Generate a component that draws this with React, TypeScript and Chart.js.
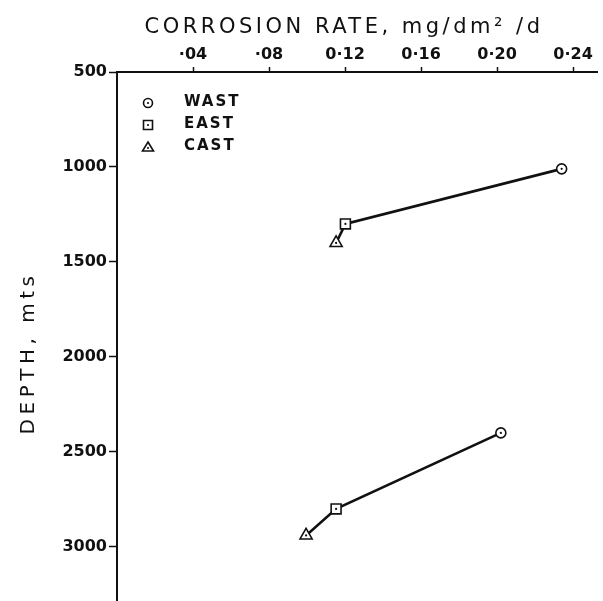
import React, { useEffect, useRef } from "react";
import { Chart, registerables } from "chart.js";

Chart.register(...registerables);

// Data (x = corrosion rate, y = depth)
const seriesLabels = ["WAST", "EAST", "CAST"];
const seriesStyles = ["circle", "rect", "triangle"];
const wastRate = [0.234, 0.202];
const wastDepth = [1010, 2400];
const eastRate = [0.1202, 0.1153];
const eastDepth = [1300, 2800];
const castRate = [0.1153, 0.0995];
const castDepth = [1400, 2940];

const xTicks = [0.04, 0.08, 0.12, 0.16, 0.2, 0.24];
const xTickLabels = ["·04", "·08", "0·12", "0·16", "0·20", "0·24"];
const yTicks = [500, 1000, 1500, 2000, 2500, 3000];

const xTitle = "CORROSION RATE, mg/dm² /d";
const yTitle = "DEPTH, mts";

const INK = "#111";

export default function App() {
  const ref = useRef<HTMLCanvasElement | null>(null);

  useEffect(() => {
    if (!ref.current) return;
    const rates = [wastRate, eastRate, castRate];
    const depths = [wastDepth, eastDepth, castDepth];
    const radii = [5, 7, 7];

    const markerSets = seriesLabels.map((label, s) => ({
      label,
      type: "scatter" as const,
      data: rates[s].map((r, i) => ({ x: r, y: depths[s][i] })),
      pointStyle: seriesStyles[s],
      pointRadius: radii[s],
      pointBackgroundColor: "#fff",
      pointBorderColor: INK,
      pointBorderWidth: 1.6,
      showLine: false,
      order: 1,
    }));
    const dotSets = seriesLabels.map((label, s) => ({
      label: label + "-dot",
      type: "scatter" as const,
      data: rates[s].map((r, i) => ({ x: r, y: depths[s][i] })),
      pointStyle: "circle",
      pointRadius: 1.1,
      pointBackgroundColor: INK,
      pointBorderWidth: 0,
      showLine: false,
      order: 0,
    }));
    const lineSets = wastRate.map((_, g) => ({
      label: "group" + g,
      type: "line" as const,
      data: rates.map((r, s) => ({ x: r[g], y: depths[s][g] })),
      borderColor: INK,
      borderWidth: 2.6,
      pointRadius: 0,
      fill: false,
      tension: 0,
      order: 2,
    }));

    const decor = {
      id: "decor",
      afterDraw(chart: any) {
        const ctx = chart.ctx as CanvasRenderingContext2D;
        ctx.save();
        ctx.fillStyle = INK;
        ctx.strokeStyle = INK;
        // x title
        ctx.font = "21px 'DejaVu Sans'";
        (ctx as any).letterSpacing = "3.5px";
        ctx.textAlign = "center";
        ctx.textBaseline = "alphabetic";
        ctx.fillText(xTitle, 344, 33);
        // y title
        ctx.save();
        ctx.translate(34, 353);
        ctx.rotate(-Math.PI / 2);
        ctx.font = "20px 'DejaVu Sans'";
        (ctx as any).letterSpacing = "4.5px";
        ctx.textBaseline = "alphabetic";
        ctx.fillText(yTitle, 0, 0);
        ctx.restore();
        // legend
        const lx = 148;
        const rows = [103, 125, 147];
        ctx.font = "bold 15px 'DejaVu Sans'";
        (ctx as any).letterSpacing = "2px";
        ctx.textAlign = "left";
        ctx.textBaseline = "middle";
        seriesLabels.forEach((label, i) => {
          const y = rows[i];
          ctx.lineWidth = 1.6;
          ctx.fillStyle = "#fff";
          ctx.beginPath();
          if (seriesStyles[i] === "circle") {
            ctx.arc(lx, y, 4.5, 0, Math.PI * 2);
          } else if (seriesStyles[i] === "rect") {
            ctx.rect(lx - 4.5, y - 4.5, 9, 9);
          } else {
            ctx.moveTo(lx, y - 5);
            ctx.lineTo(lx + 5.5, y + 4);
            ctx.lineTo(lx - 5.5, y + 4);
            ctx.closePath();
          }
          ctx.fill();
          ctx.stroke();
          ctx.fillStyle = INK;
          ctx.beginPath();
          ctx.arc(lx, y + (i === 2 ? 1 : 0), 1.1, 0, Math.PI * 2);
          ctx.fill();
          ctx.fillText(label, 184, y - 1);
        });
        ctx.restore();
      },
    };

    const chart = new Chart(ref.current, {
      type: "scatter",
      data: { datasets: [...lineSets, ...markerSets, ...dotSets] as any },
      options: {
        animation: false,
        responsive: true,
        maintainAspectRatio: false,
        layout: { autoPadding: false, padding: { left: 0, right: 6, top: 0, bottom: 0 } },
        plugins: { legend: { display: false }, tooltip: { enabled: false } },
        scales: {
          x: {
            type: "linear",
            position: "top",
            min: 0,
            max: 0.2526,
            afterBuildTicks(scale: any) {
              scale.ticks = xTicks.map((v) => ({ value: v }));
            },
            afterFit(scale: any) {
              scale.height = 72;
              scale.paddingLeft = 0;
              scale.paddingRight = 0;
            },
            ticks: {
              color: INK,
              font: { family: "DejaVu Sans", size: 16, weight: "bold" },
              padding: 3,
              maxRotation: 0,
              autoSkip: false,
              callback: (v: any) => {
                const i = xTicks.findIndex((t) => Math.abs(t - v) < 1e-9);
                return i >= 0 ? xTickLabels[i] : "";
              },
            },
            grid: {
              drawOnChartArea: false,
              drawTicks: true,
              tickLength: 5,
              tickColor: INK,
              tickWidth: 1.5,
            },
            border: { display: true, color: INK, width: 2 },
          },
          y: {
            type: "linear",
            reverse: true,
            min: 500,
            max: 3285,
            afterBuildTicks(scale: any) {
              scale.ticks = yTicks.map((v) => ({ value: v }));
            },
            afterFit(scale: any) {
              scale.width = 117;
              scale.paddingTop = 0;
              scale.paddingBottom = 0;
            },
            ticks: {
              color: INK,
              font: { family: "DejaVu Sans", size: 16, weight: "bold" },
              padding: 2,
              autoSkip: false,
              callback: (v: any) => String(v),
            },
            grid: {
              drawOnChartArea: false,
              drawTicks: true,
              tickLength: 8,
              tickColor: INK,
              tickWidth: 1.5,
            },
            border: { display: true, color: INK, width: 2 },
          },
        },
      },
      plugins: [decor],
    });
    return () => chart.destroy();
  }, []);

  return (
    <div style={{ position: "absolute", left: 0, top: 0, width: 603, height: 601, background: "#fff" }}>
      <canvas ref={ref} />
    </div>
  );
}
